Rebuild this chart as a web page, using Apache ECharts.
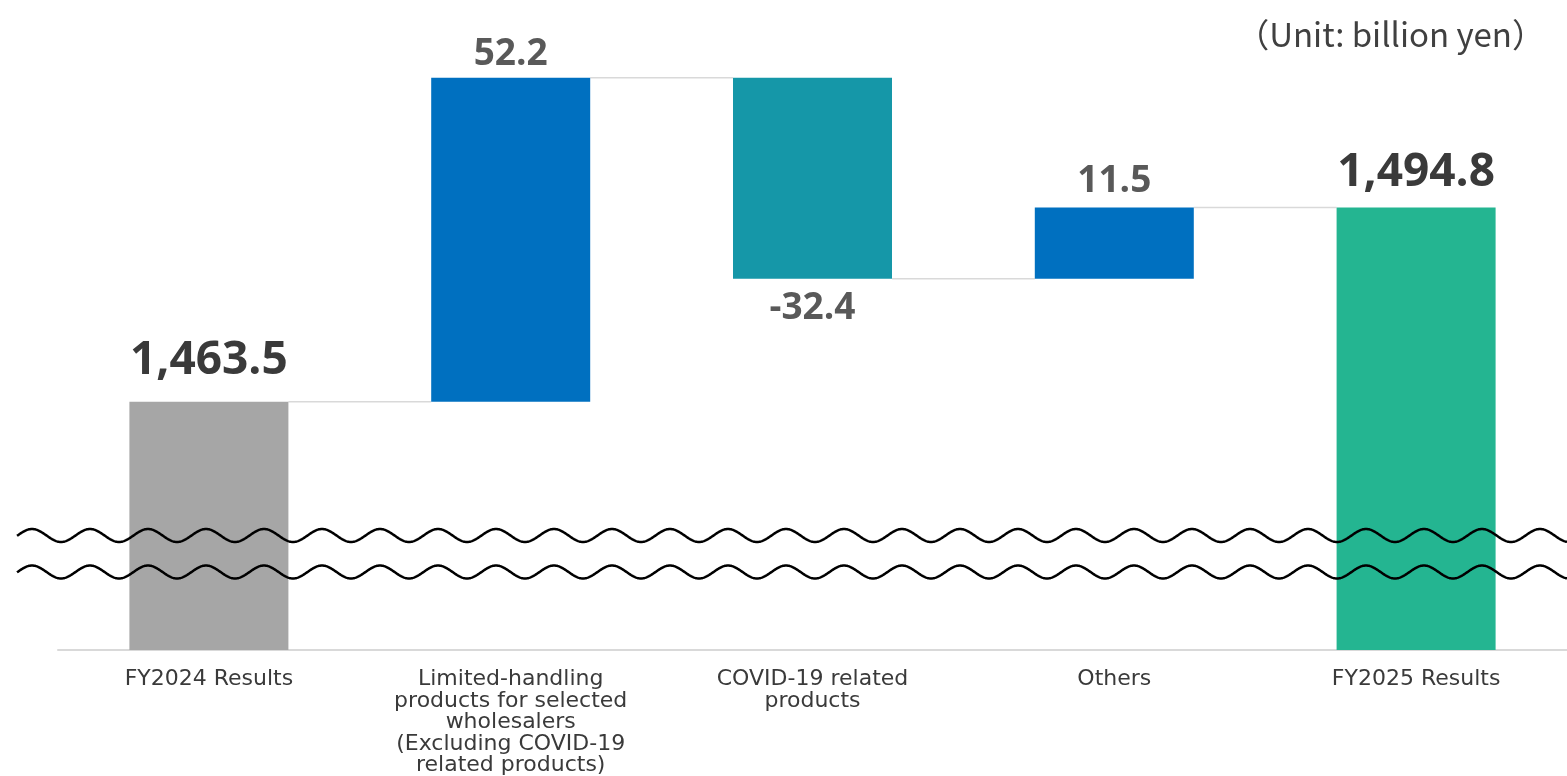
<!DOCTYPE html>
<html>
<head>
<meta charset="utf-8">
<script src="https://cdn.jsdelivr.net/npm/echarts@6/dist/echarts.min.js"></script>
<style>
html,body{margin:0;padding:0;background:#fff;}
#chart{width:1567px;height:776px;}
</style>
</head>
<body>
<div id="chart"></div>
<script>
// ---- data ----
const categories = [
  'FY2024 Results',
  'Limited-handling\nproducts for selected\nwholesalers\n(Excluding COVID-19\nrelated products)',
  'COVID-19 related\nproducts',
  'Others',
  'FY2025 Results'
];
const values = [1463.5, 52.2, -32.4, 11.5, 1494.8];
const isTotal = [true, false, false, false, true];
const unitText = '\uFF08Unit: billion yen\uFF09';

// ---- styles ----
const barColors = ['#a6a6a6', '#0070c0', '#1597a8', '#0070c0', '#24b591'];
const labelDist = [18, 5, 11, 7, 12];

// ---- derived waterfall pieces ----
const helper = [];
const heights = [];
const connectors = [];
let running = 0;
values.forEach((v, i) => {
  if (isTotal[i]) {
    helper.push(0);
    heights.push(v);
    running = v;
  } else {
    const next = running + v;
    helper.push(Math.min(running, next));
    heights.push(Math.abs(v));
    running = next;
  }
  if (i < values.length - 1) connectors.push([i, +running.toFixed(1)]);
});

function fmt(v) {
  const s = Math.abs(v).toFixed(1).replace(/\B(?=(\d{3})+(?!\d))/g, ',');
  return (v < 0 ? '-' : '') + s;
}

const BAR_W = 159;

const chart = echarts.init(document.getElementById('chart'), null, {renderer: 'canvas'});

const option = {
  animation: false,
  backgroundColor: '#ffffff',
  grid: {left: 58, right: 0, top: 51, bottom: 126, containLabel: false, outerBoundsMode: 'none'},
  xAxis: {
    type: 'category',
    data: categories,
    axisLine: {show: true, lineStyle: {color: '#d9d9d9', width: 2}},
    axisTick: {show: false},
    axisLabel: {
      interval: 0,
      margin: 19,
      fontFamily: 'DejaVu Sans',
      fontSize: 22,
      lineHeight: 21.5,
      color: '#3a3a3a'
    },
    splitLine: {show: false}
  },
  yAxis: {
    type: 'value',
    min: 1423.5,
    max: 1520,
    show: false,
    splitLine: {show: false}
  },
  graphic: [],
  series: [
    {
      type: 'custom',
      z: 1,
      renderItem: function (params, api) {
        const p = api.coord([api.value(0), api.value(1)]);
        const w = api.size([1, 0])[0];
        return {
          type: 'line',
          shape: {x1: p[0] + BAR_W / 2, y1: p[1], x2: p[0] + w - BAR_W / 2, y2: p[1]},
          style: {stroke: '#d9d9d9', lineWidth: 1.5}
        };
      },
      data: connectors,
      silent: true
    },
    {
      type: 'bar',
      stack: 'w',
      barWidth: BAR_W,
      itemStyle: {color: 'transparent'},
      data: helper,
      silent: true,
      z: 2
    },
    {
      type: 'bar',
      stack: 'w',
      barWidth: BAR_W,
      clip: true,
      z: 3,
      data: heights.map((h, i) => ({
        value: h,
        itemStyle: {color: barColors[i]},
        label: {
          show: true,
          position: values[i] < 0 ? 'bottom' : 'top',
          distance: labelDist[i],
          fontFamily: 'Open Sans',
          fontWeight: 'bold',
          fontSize: isTotal[i] ? 46 : 37,
          lineHeight: isTotal[i] ? 46 : 37,
          color: isTotal[i] ? '#3a3a3a' : '#595959',
          formatter: () => fmt(values[i])
        }
      }))
    }
  ]
};

chart.setOption(option);

// decorative axis-break waves and unit text
function wave(cy) {
  const pts = [];
  for (let x = 17; x <= 1567; x += 1) {
    pts.push([x, cy - 6.5 * Math.cos(2 * Math.PI * (x - 90) / 58)]);
  }
  return {
    type: 'polyline',
    z: 100,
    shape: {points: pts},
    style: {stroke: '#000', lineWidth: 2.5, fill: null}
  };
}
chart.setOption({
  graphic: [
    wave(535.5),
    wave(572),
    {
      type: 'text',
      right: 22,
      top: 18,
      z: 100,
      style: {
        text: unitText,
        fontFamily: 'Noto Sans CJK JP',
        fontSize: 33,
        fill: '#404040'
      }
    }
  ]
});
</script>
</body>
</html>
